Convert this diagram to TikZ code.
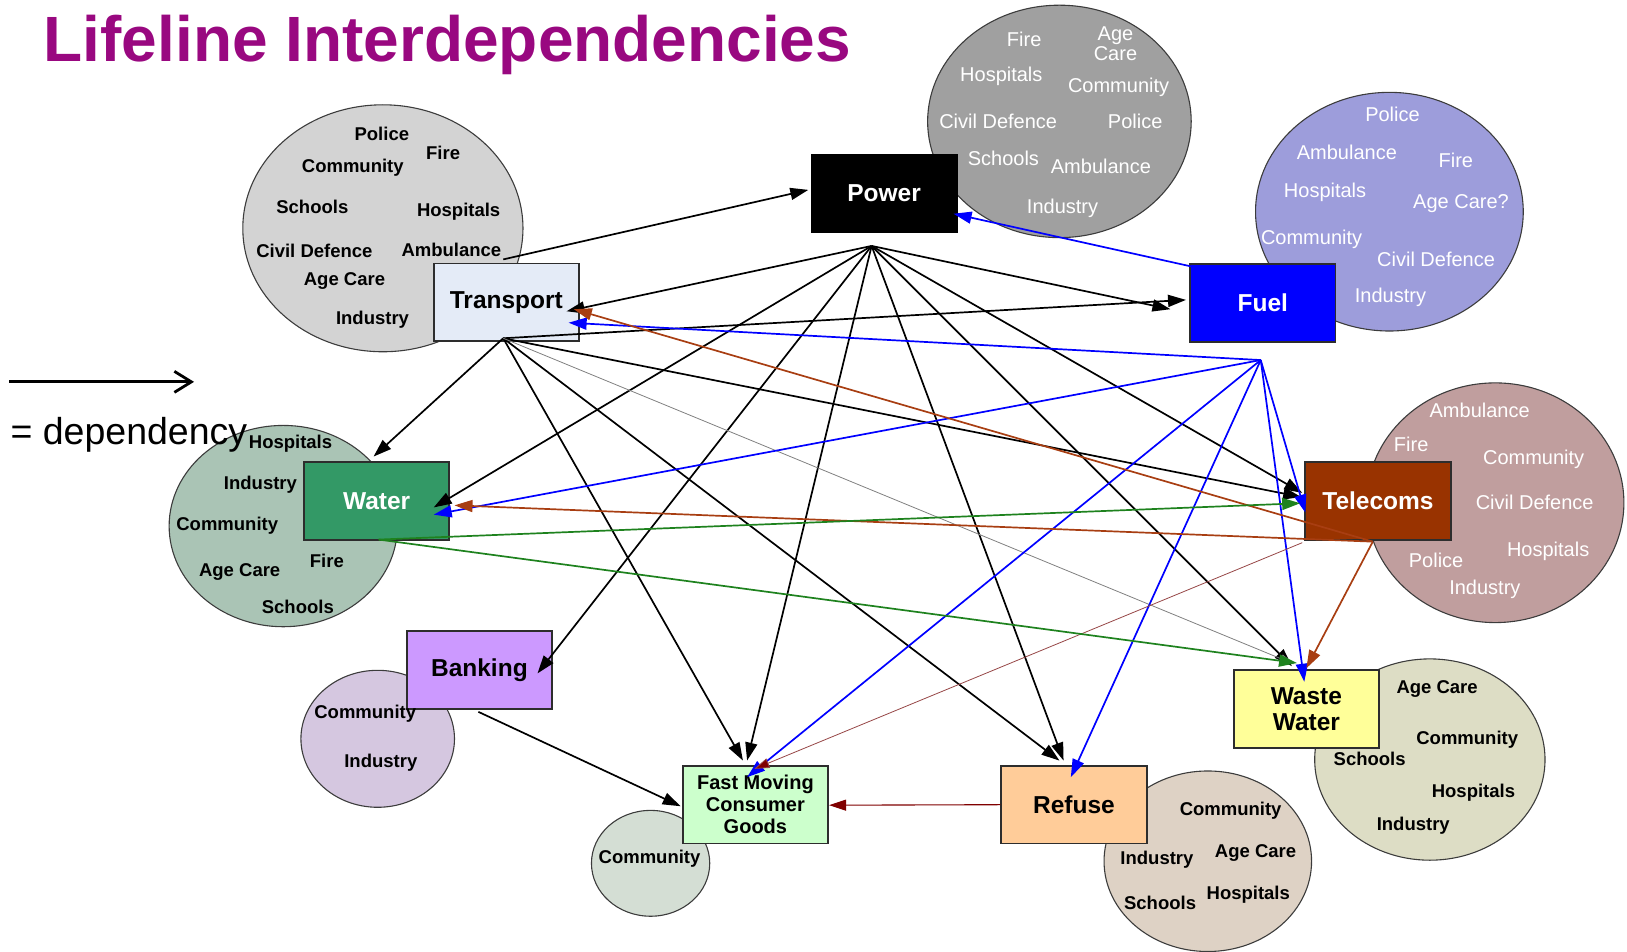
\documentclass[tikz,border=0pt]{standalone}
\usepackage{fontspec}
\setmainfont{Liberation Sans}
\usetikzlibrary{arrows.meta,calc}

% palette
\definecolor{titlepurple}{RGB}{153,8,128}
\definecolor{boxline}{RGB}{45,45,45}
\definecolor{ringline}{RGB}{60,60,60}
\definecolor{trfill}{RGB}{228,235,247}
\definecolor{wafill}{RGB}{51,153,102}
\definecolor{tefill}{RGB}{153,51,0}
\definecolor{bafill}{RGB}{204,153,255}
\definecolor{fmfill}{RGB}{204,255,204}
\definecolor{refill}{RGB}{255,204,153}
\definecolor{wwfill}{RGB}{255,255,153}
\definecolor{trring}{RGB}{211,211,211}
\definecolor{pwring}{RGB}{160,160,160}
\definecolor{furing}{RGB}{157,157,219}
\definecolor{waring}{RGB}{170,196,181}
\definecolor{tering}{RGB}{192,158,158}
\definecolor{baring}{RGB}{213,199,224}
\definecolor{fmring}{RGB}{212,222,212}
\definecolor{rering}{RGB}{222,210,197}
\definecolor{wwring}{RGB}{221,221,197}
\definecolor{depbrown}{RGB}{168,62,18}
\definecolor{depgreen}{RGB}{30,130,30}
\definecolor{depred}{RGB}{128,0,0}
\definecolor{depthin}{RGB}{150,70,70}

\begin{document}
\begin{tikzpicture}[
  x=1.0376pt, y=-1.0376pt,
  lifebox/.style={draw=boxline, line width=1.8pt, minimum width=145.3pt,
    minimum height=77.8pt, inner sep=0pt, align=center,
    font=\bfseries\fontsize{24.5}{26}\selectfont},
  ring/.style={draw=ringline, line width=1.1pt},
  blk/.style={font=\bfseries\fontsize{18.5}{20}\selectfont, text=black, inner sep=0pt},
  wht/.style={font=\fontsize{20}{20}\selectfont, text=white, inner sep=0pt},
  dep/.style={line width=1.7pt, -{Triangle[length=18pt,width=12pt]}},
  blackdep/.style={dep, draw=black},
  bluedep/.style={dep, draw=blue},
  browndep/.style={dep, draw=depbrown},
  greendep/.style={dep, draw=depgreen},
  thindep/.style={line width=0.8pt, -{Triangle[length=14pt,width=9pt]}}
]
\useasboundingbox (0,0) rectangle (1568,917);

% sector circles
\filldraw[ring, fill=trring] (369,220) ellipse [x radius=135, y radius=119];
\filldraw[ring, fill=pwring] (1021,117) ellipse [x radius=127, y radius=112];
\filldraw[ring, fill=furing] (1339,204) ellipse [x radius=129, y radius=115];
\filldraw[ring, fill=waring] (273,507) ellipse [x radius=110, y radius=97];
\filldraw[ring, fill=tering] (1441,484.5) ellipse [x radius=124, y radius=115.5];
\filldraw[ring, fill=baring] (364,712) ellipse [x radius=74, y radius=66];
\filldraw[ring, fill=fmring] (627,832) ellipse [x radius=57, y radius=51];
\filldraw[ring, fill=rering] (1164,830) ellipse [x radius=100, y radius=87];
\filldraw[ring, fill=wwring] (1378,732) ellipse [x radius=111, y radius=97];

% lifeline boxes
\node[lifebox, fill=black, draw=black, text=white] (power) at (852,186.5) {Power};
\node[lifebox, fill=trfill] (transport) at (488,291.5) {Transport};
\node[lifebox, fill=blue, text=white] (fuel) at (1217,292) {Fuel};
\node[lifebox, fill=wafill, text=white] (water) at (363,483) {Water};
\node[lifebox, fill=tefill, text=white] (telecoms) at (1328,483) {Telecoms};
\node[lifebox, fill=bafill] (banking) at (462,645.5) {Banking};
\node[lifebox, fill=fmfill, font=\bfseries\fontsize{20}{22}\selectfont] (fmcg) at (728,775.5) {Fast Moving\\Consumer\\Goods};
\node[lifebox, fill=refill] (refuse) at (1035,775.5) {Refuse};
\node[lifebox, fill=wwfill] (waste) at (1259,683) {Waste\\Water};

% sector labels
\foreach \t/\x/\y [count=\i] in {Police/368/129, Fire/427/147, Community/340/162,
    Schools/301/199, Hospitals/442/204, Civil Defence/303/242, Ambulance/435/241,
    Age Care/332/271, Industry/359/308}
  \node[blk] (trlab\i) at (\x,\y) {\t};
\foreach \t/\x/\y [count=\i] in {Fire/987/38, Hospitals/965/74, Community/1078/84,
    Civil Defence/962/117, Police/1094/117, Schools/967/153, Ambulance/1061/160,
    Industry/1024/201}
  \node[wht] (pwlab\i) at (\x,\y) {\t};
\node[wht, align=center] (pwlabage) at (1075,42) {Age\\Care};
\foreach \t/\x/\y [count=\i] in {Police/1342/110, Ambulance/1298/147, Fire/1403/155,
    Hospitals/1277/185, Age Care?/1408/196, Community/1264/231,
    Civil Defence/1384/250, Industry/1340/287}
  \node[wht] (fulab\i) at (\x,\y) {\t};
\foreach \t/\x/\y [count=\i] in {Hospitals/280/428, Industry/251/467, Community/219/507,
    Fire/315/541, Age Care/231/551, Schools/287/585}
  \node[blk] (walab\i) at (\x,\y) {\t};
\foreach \t/\x/\y [count=\i] in {Ambulance/1426/395, Fire/1360/428, Community/1478/443,
    Civil Defence/1479/484, Hospitals/1492/531, Police/1384/540, Industry/1431/568}
  \node[wht] (telab\i) at (\x,\y) {\t};
\foreach \t/\x/\y [count=\i] in {Community/352/688, Industry/367/735}
  \node[blk] (balab\i) at (\x,\y) {\t};
\node[blk] (fmlab1) at (626,828) {Community};
\foreach \t/\x/\y [count=\i] in {Community/1186/781, Industry/1115/829, Age Care/1210/822,
    Schools/1118/870, Hospitals/1203/862}
  \node[blk] (relab\i) at (\x,\y) {\t};
\foreach \t/\x/\y [count=\i] in {Age Care/1385/664, Community/1414/713, Schools/1320/731,
    Hospitals/1420/764, Industry/1362/796}
  \node[blk] (wwlab\i) at (\x,\y) {\t};

% title and key
\node[anchor=base west, inner sep=0pt, text=titlepurple,
  font=\bfseries\fontsize{64}{70}\selectfont] (title) at (42,59.5) {Lifeline Interdependencies};
\coordinate (keyA) at (8.7,368);
\coordinate (keyB) at (187,368);
\draw[line width=2.8pt, -{Straight Barb[length=17pt,width=21pt,line width=2.8pt]}] (keyA) -- (keyB);
\node[anchor=base west, inner sep=0pt, font=\fontsize{37.5}{40}\selectfont] (keytext) at (10,428) {= dependency};

% hubs where several dependencies leave a lifeline
\coordinate (powerHub) at ($(power)+(-12,50.5)$);
\coordinate (transportTop) at ($(transport)+(-3,-41.5)$);
\coordinate (transportHub) at ($(transport)+(-3,34.5)$);
\coordinate (fuelTop) at ($(fuel)+(-68,-35)$);
\coordinate (fuelHub) at ($(fuel)+(-2,55)$);
\coordinate (waterHub) at ($(water)+(2,37)$);
\coordinate (telecomsHub) at ($(telecoms)+(-5,39)$);
\coordinate (telecomsLow) at ($(telecoms)+(-73,40)$);
\coordinate (bankingOut) at ($(banking)+(-1,40.5)$);

% dependencies on power
\draw[blackdep] (powerHub) -- ($(transport)+(58,8.5)$);
\draw[blackdep] (powerHub) -- ($(fuel)+(-89,6)$);
\draw[blackdep] (powerHub) -- ($(water)+(55,6)$);
\draw[blackdep] (powerHub) -- ($(banking)+(56,3.5)$);
\draw[blackdep] (powerHub) -- ($(fmcg)+(-8,-42.5)$);
\draw[blackdep] (powerHub) -- ($(refuse)+(-10,-42.5)$);
\draw[blackdep] (powerHub) -- ($(telecoms)+(-73,-8)$);
\draw[blackdep] (powerHub) -- ($(waste)+(-14,-41)$);

% dependencies on transport
\draw[blackdep] (transportTop) -- ($(power)+(-73,-3.5)$);
\draw[blackdep] (transportHub) -- ($(fuel)+(-74,-3)$);
\draw[blackdep] (transportHub) -- ($(water)+(-3,-43)$);
\draw[blackdep] (transportHub) -- ($(fmcg)+(-12,-42.5)$);
\draw[blackdep] (transportHub) -- ($(refuse)+(-14,-42.5)$);
\draw[blackdep] (transportHub) -- ($(telecoms)+(-74,-4)$);
\draw[thindep, draw=gray] (transportHub) -- ($(waste)+(-12,-43)$);

% dependencies on banking
\draw[blackdep] (bankingOut) -- ($(fmcg)+(-72,1.5)$);

% dependencies on fuel
\draw[bluedep] (fuelTop) -- ($(power)+(67,19.5)$);
\draw[bluedep] (fuelHub) -- ($(transport)+(60,19.5)$);
\draw[bluedep] (fuelHub) -- ($(water)+(55,13)$);
\draw[bluedep] (fuelHub) -- ($(telecoms)+(-70,11)$);
\draw[bluedep] (fuelHub) -- ($(waste)+(-2,-26)$);
\draw[bluedep] (fuelHub) -- ($(fmcg)+(-8,-26.5)$);
\draw[bluedep] (fuelHub) -- ($(refuse)+(-3,-26.5)$);

% dependencies on telecoms
\draw[browndep] (telecomsHub) -- ($(transport)+(65,6.5)$);
\draw[browndep] (telecomsHub) -- ($(water)+(75,4)$);
\draw[browndep] (telecomsHub) -- ($(waste)+(0,-39)$);
\draw[thindep, draw=depthin, -{Triangle[length=15pt,width=10pt,fill=depred]}] (telecomsLow) -- ($(fmcg)+(-1,-34.5)$);

% dependencies on water
\draw[greendep] (waterHub) -- ($(telecoms)+(-75,2)$);
\draw[greendep] (waterHub) -- ($(waste)+(-9,-44)$);

% dependency on refuse
\draw[line width=1.1pt, draw=depred, -{Triangle[length=17pt,width=11pt]}] (refuse.west) -- ($(fmcg)+(71,0.5)$);
\end{tikzpicture}
\end{document}
